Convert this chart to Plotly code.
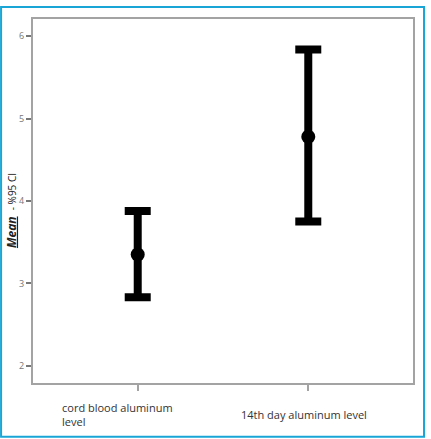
import plotly.graph_objects as go

# Means and 95% CI bounds
categories = ["cord blood aluminum level", "14th day aluminum level"]
tick_labels = ["cord blood aluminum<br>level", "14th day aluminum level"]
means = [3.35, 4.78]
upper = [3.88, 5.84]
lower = [2.83, 3.75]

AXIS_GREY = "#a3a3a3"
FRAME_BLUE = "#19a6d6"

xpos = list(range(len(categories)))

fig = go.Figure()
fig.add_trace(go.Scatter(
    x=xpos, y=means, mode="markers",
    marker=dict(color="black", size=14),
    error_y=dict(type="data", symmetric=False,
                 array=[u - m for u, m in zip(upper, means)],
                 arrayminus=[m - l for m, l in zip(means, lower)],
                 color="black", thickness=8, width=13),
    hoverinfo="skip", showlegend=False))

# Category labels under the x axis (first one wraps and is left aligned)
for i, lab in enumerate(tick_labels):
    fig.add_annotation(
        x=xpos[i], xref="x", y=-0.087, yref="paper",
        text=lab, showarrow=False, align="left",
        xanchor="center", yanchor="middle",
        xshift=-20 if i == 0 else -4,
        font=dict(family="Open Sans", size=11, color="#333333"))

# Y axis title: bold italic underlined "Mean" plus the CI note
fig.add_annotation(
    x=-0.058, xref="paper", y=0.475, yref="paper",
    xanchor="center", yanchor="middle",
    text="<b><i><u>Mean</u></i></b>  <span style='font-size:10px'>- %95 CI</span>",
    textangle=-90, showarrow=False,
    font=dict(family="Open Sans", size=12, color="#222222"))

# Blue outer frame
fig.add_shape(type="rect", xref="paper", yref="paper",
              x0=-0.084, x1=1.029, y0=-0.148, y1=1.033,
              line=dict(color=FRAME_BLUE, width=2))

fig.update_layout(
    width=431, height=439,
    margin=dict(l=33, r=18, t=19, b=56),
    paper_bgcolor="white", plot_bgcolor="white",
    font=dict(family="Open Sans"),
    xaxis=dict(range=[-0.614, 1.614], tickvals=xpos, ticktext=["", ""],
               showgrid=False, zeroline=False,
               showline=True, linecolor=AXIS_GREY, linewidth=2, mirror=True,
               ticks="outside", ticklen=6, tickcolor=AXIS_GREY, tickwidth=1.5),
    yaxis=dict(range=[1.79, 6.21], tickvals=[2, 3, 4, 5, 6],
               ticktext=["2", "3", "4", "5", "6"],
               showgrid=False, zeroline=False,
               showline=True, linecolor=AXIS_GREY, linewidth=2, mirror=True,
               ticks="outside", ticklen=5, tickcolor="#777777", tickwidth=1.5,
               tickfont=dict(size=9, color="#777777")),
)

# drop the default 8px body margin so the figure sits at the window origin
fig.write_html("out.html", config={"displayModeBar": False},
               post_script="document.body.style.margin='0';")
